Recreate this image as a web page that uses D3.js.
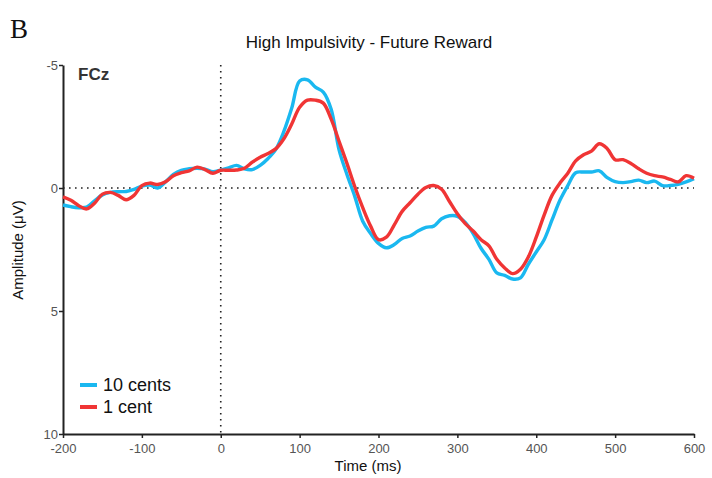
<!DOCTYPE html>
<html>
<head>
<meta charset="utf-8">
<script src="https://cdn.jsdelivr.net/npm/d3@7"></script>
<style>
  body { margin: 0; background: #fff; }
  svg { font-family: "Liberation Sans", Arial, sans-serif; }
</style>
</head>
<body>
<svg id="chart"></svg>
<script>
// ERP waveform at FCz, time in ms, amplitude in microvolts (negative up)
const times = d3.range(-200, 601, 10);

const tenCents = [
  0.69, 0.76, 0.80, 0.78, 0.52, 0.28, 0.18, 0.15, 0.14, 0.06,
  -0.08, -0.12, 0.0, -0.25, -0.55, -0.72, -0.78, -0.80, -0.77, -0.66,
  -0.73, -0.82, -0.92, -0.78, -0.75, -0.92, -1.2, -1.58, -2.3, -3.25,
  -4.35, -4.4, -4.1, -3.9, -3.2, -1.55, -0.55, 0.35, 1.35, 1.85,
  2.25, 2.43, 2.3, 2.05, 1.95, 1.75, 1.6, 1.55, 1.25, 1.13,
  1.15, 1.4, 1.85, 2.45, 2.9, 3.45, 3.55, 3.7, 3.65, 3.1,
  2.6, 2.1, 1.3, 0.5, -0.1, -0.62, -0.65, -0.65, -0.7, -0.42,
  -0.26, -0.22, -0.26, -0.32, -0.22, -0.28, -0.1, -0.1, -0.15, -0.25,
  -0.38
];

const oneCent = [
  0.36, 0.5, 0.72, 0.85, 0.62, 0.25, 0.18, 0.3, 0.48, 0.3,
  -0.1, -0.2, -0.14, -0.25, -0.5, -0.62, -0.7, -0.85, -0.75, -0.6,
  -0.72, -0.72, -0.73, -0.8, -1.05, -1.25, -1.4, -1.6, -2.0, -2.6,
  -3.28, -3.57, -3.57, -3.45, -2.8, -1.9, -1.0, -0.05, 0.8, 1.55,
  2.1, 2.0, 1.5, 0.95, 0.6, 0.25, -0.02, -0.1, 0.05, 0.55,
  1.05, 1.45, 1.75, 2.1, 2.35, 2.9, 3.25, 3.48, 3.3, 2.8,
  2.0, 1.1, 0.3, -0.2, -0.6, -1.1, -1.35, -1.5, -1.8, -1.6,
  -1.15, -1.15, -1.0, -0.78, -0.6, -0.5, -0.45, -0.35, -0.25, -0.5,
  -0.4
];

const seriesNames = ["10 cents", "1 cent"];
const seriesColors = ["#1ab8f0", "#f03535"];
const xTicks = [-200, -100, 0, 100, 200, 300, 400, 500, 600];
const yTicks = [-5, 0, 5, 10];

const width = 712, height = 478;
const margin = { top: 65, right: 18, bottom: 44, left: 63 };

const svg = d3.select("#chart")
  .attr("width", width)
  .attr("height", height);

const x = d3.scaleLinear().domain([-200, 600]).range([margin.left, width - margin.right]);
const y = d3.scaleLinear().domain([-5, 10]).range([margin.top, height - margin.bottom]);

// zero reference lines
svg.append("line")
  .attr("x1", x(-200)).attr("x2", x(600))
  .attr("y1", y(0)).attr("y2", y(0))
  .attr("stroke", "#222").attr("stroke-width", 1.6)
  .attr("stroke-dasharray", "1.6,4.4");

svg.append("line")
  .attr("x1", x(0)).attr("x2", x(0))
  .attr("y1", y(-5)).attr("y2", y(10))
  .attr("stroke", "#222").attr("stroke-width", 1.6)
  .attr("stroke-dasharray", "1.6,4.4");

// axes (plain hyphen for negatives, like the original)
const fmt = d => String(d);

const xAxis = svg.append("g")
  .attr("transform", `translate(0, ${y(10)})`)
  .call(d3.axisBottom(x).tickValues(xTicks).tickFormat(fmt).tickSize(4).tickSizeOuter(0));

const yAxis = svg.append("g")
  .attr("transform", `translate(${x(-200)}, 0)`)
  .call(d3.axisLeft(y).tickValues(yTicks).tickFormat(fmt).tickSize(4).tickSizeOuter(0));

[xAxis, yAxis].forEach(g => {
  g.select(".domain").attr("stroke", "#222").attr("stroke-width", 2);
  g.selectAll(".tick line").attr("stroke", "#222").attr("stroke-width", 1.5);
  g.selectAll(".tick text")
    .attr("fill", "#555")
    .style("font-size", "13px")
    .style("font-family", "'Liberation Sans', Arial, sans-serif");
});
xAxis.selectAll(".tick text").attr("dy", "0.9em");
yAxis.selectAll(".tick text").attr("x", -5);

// waveforms
const line = d3.line()
  .x((d, i) => x(times[i]))
  .y(d => y(d))
  .curve(d3.curveCatmullRom.alpha(0.5));

[tenCents, oneCent].forEach((vals, k) => {
  svg.append("path")
    .datum(vals)
    .attr("fill", "none")
    .attr("stroke", seriesColors[k])
    .attr("stroke-width", 3.4)
    .attr("stroke-linejoin", "round")
    .attr("d", line);
});

// legend
const legend = svg.append("g").attr("transform", "translate(80, 385)");
seriesNames.forEach((name, k) => {
  legend.append("line")
    .attr("x1", 0).attr("x2", 17)
    .attr("y1", k * 22).attr("y2", k * 22)
    .attr("stroke", seriesColors[k]).attr("stroke-width", 4);
  legend.append("text")
    .attr("x", 23).attr("y", k * 22 + 6)
    .attr("font-size", "18px")
    .attr("fill", "#111")
    .text(name);
});

// labels
svg.append("text")
  .attr("x", 10).attr("y", 38)
  .attr("font-family", "'Liberation Serif', 'Times New Roman', serif")
  .attr("font-size", "27px")
  .attr("fill", "#111")
  .text("B");

svg.append("text")
  .attr("x", 369).attr("y", 48)
  .attr("text-anchor", "middle")
  .attr("font-size", "17px")
  .attr("fill", "#111")
  .text("High Impulsivity - Future Reward");

svg.append("text")
  .attr("x", 78).attr("y", 80)
  .attr("font-size", "17px")
  .attr("font-weight", "bold")
  .attr("fill", "#333")
  .text("FCz");

svg.append("text")
  .attr("x", 368).attr("y", 471)
  .attr("text-anchor", "middle")
  .attr("font-size", "15px")
  .attr("fill", "#111")
  .text("Time (ms)");

svg.append("text")
  .attr("transform", "translate(23, 250) rotate(-90)")
  .attr("text-anchor", "middle")
  .attr("font-size", "15px")
  .attr("fill", "#111")
  .text("Amplitude (\u03BCV)");
</script>
</body>
</html>
